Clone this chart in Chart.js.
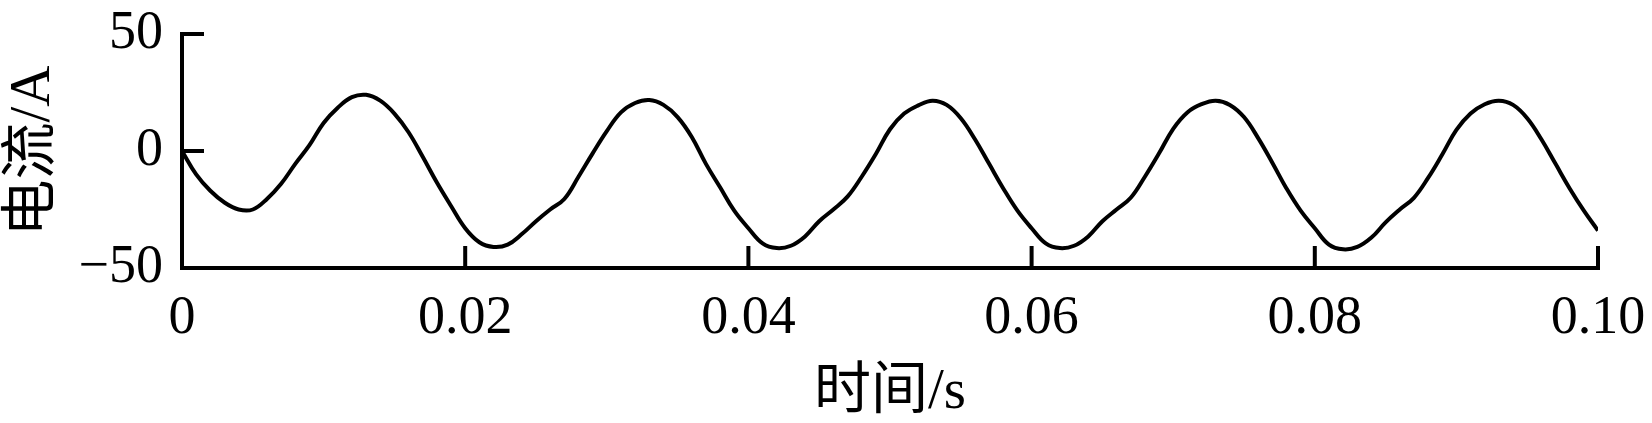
<!DOCTYPE html>
<html>
<head>
<meta charset="utf-8">
<script src="https://cdn.jsdelivr.net/npm/chart.js@4/dist/chart.umd.min.js"></script>
<style>
html,body{margin:0;padding:0;background:#fff;}
#c{display:block;}
</style>
</head>
<body>
<canvas id="c" width="1652" height="423"></canvas>
<script>
// ---- data ----
const timeS = [
  0.000,0.001,0.002,0.003,0.004,0.005,0.006,0.007,0.008,0.009,
  0.010,0.011,0.012,0.013,0.014,0.015,0.016,0.017,0.018,0.019,
  0.020,0.021,0.022,0.023,0.024,0.025,0.026,0.027,0.028,0.029,
  0.030,0.031,0.032,0.033,0.034,0.035,0.036,0.037,0.038,0.039,
  0.040,0.041,0.042,0.043,0.044,0.045,0.046,0.047,0.048,0.049,
  0.050,0.051,0.052,0.053,0.054,0.055,0.056,0.057,0.058,0.059,
  0.060,0.061,0.062,0.063,0.064,0.065,0.066,0.067,0.068,0.069,
  0.070,0.071,0.072,0.073,0.074,0.075,0.076,0.077,0.078,0.079,
  0.080,0.081,0.082,0.083,0.084,0.085,0.086,0.087,0.088,0.089,
  0.090,0.091,0.092,0.093,0.094,0.095,0.096,0.097,0.098,0.099,
  0.100
];
const currentA = [
  0,-10,-17,-22,-25,-25,-20.5,-14,-5.5,2.5,
  12,18.5,23,24,21.5,16,8,-2.5,-13.5,-23.5,
  -33,-39,-41,-40,-35.5,-30,-25,-20.5,-11,-1,
  8.5,16.5,20.5,21.8,19.7,14.5,6,-5.5,-15.5,-25.5,
  -33,-39.5,-41.5,-40.5,-36.5,-30,-25,-19.5,-11,-1.3,
  9.3,16,19.5,21.5,19.7,14,5,-5.5,-16,-25.5,
  -33,-39.5,-41.5,-40.5,-36.5,-30,-25,-20,-11,-1,
  9.5,16.5,20,21.5,19.7,14.5,5.5,-5,-16,-25.5,
  -33,-40,-42,-41,-37,-30.5,-25,-20,-11.5,-1.5,
  9,16,20,21.5,19.7,14,5,-5.5,-16,-25.5,
  -34
];
const xTickValues = [0, 0.02, 0.04, 0.06, 0.08, 0.10];
const xTickLabels = ['0', '0.02', '0.04', '0.06', '0.08', '0.10'];
const yTickValues = [-50, 0, 50];
const yTickLabels = ['\u221250', '0', '50'];
const xTitle = '时间/s';
const yTitle = '电流/A';

// ---- styling ----
const FONT = "'Liberation Serif', 'Noto Sans CJK SC', serif";
const AXIS_W = 4;
const TICK_LEN = 22;

const points = timeS.map((t, i) => ({x: t, y: currentA[i]}));

const axesPlugin = {
  id: 'axesInward',
  afterDatasetsDraw(chart) {
    const ctx = chart.ctx;
    const xs = chart.scales.x, ys = chart.scales.y;
    const x0 = xs.getPixelForValue(xTickValues[0]);
    const x1 = xs.getPixelForValue(xTickValues[xTickValues.length - 1]);
    const yb = ys.getPixelForValue(yTickValues[0]);
    const yt = ys.getPixelForValue(yTickValues[yTickValues.length - 1]);
    ctx.save();
    ctx.strokeStyle = '#000';
    ctx.lineWidth = AXIS_W;
    ctx.lineCap = 'square';
    ctx.beginPath();
    ctx.moveTo(x0, yt); ctx.lineTo(x0, yb); ctx.lineTo(x1, yb);
    ctx.stroke();
    ctx.lineCap = 'butt';
    ctx.beginPath();
    yTickValues.forEach(v => {
      if (v === yTickValues[0]) return;
      const p = ys.getPixelForValue(v);
      ctx.moveTo(x0, p); ctx.lineTo(x0 + TICK_LEN, p);
    });
    xTickValues.forEach(v => {
      if (v === xTickValues[0]) return;
      const p = xs.getPixelForValue(v);
      ctx.moveTo(p, yb); ctx.lineTo(p, yb - TICK_LEN);
    });
    ctx.stroke();
    ctx.restore();
  }
};

function noPad(s) {
  s.paddingTop = 0; s.paddingBottom = 0; s.paddingLeft = 0; s.paddingRight = 0;
}

new Chart(document.getElementById('c'), {
  type: 'line',
  data: {
    datasets: [{
      data: points,
      borderColor: '#000',
      borderWidth: 4,
      pointRadius: 0,
      tension: 0.4,
      fill: false
    }]
  },
  options: {
    responsive: false,
    animation: false,
    devicePixelRatio: 1,
    layout: {padding: {left: 0, right: 54, top: 34, bottom: 0}},
    plugins: {legend: {display: false}, tooltip: {enabled: false}},
    scales: {
      x: {
        type: 'linear',
        min: 0, max: 0.1,
        grid: {display: false, drawTicks: false},
        border: {display: false},
        afterBuildTicks: s => { s.ticks = xTickValues.map(v => ({value: v})); },
        afterFit: s => { s.height = 155; noPad(s); },
        ticks: {
          color: '#000',
          font: {family: FONT, size: 54},
          padding: 18,
          maxRotation: 0,
          autoSkip: false,
          callback: (v, i) => xTickLabels[i]
        },
        title: {
          display: true, text: xTitle, color: '#000',
          font: {family: FONT, size: 57, lineHeight: 1},
          padding: {top: 0, bottom: 1}
        }
      },
      y: {
        type: 'linear',
        min: -50, max: 50,
        grid: {display: false, drawTicks: false},
        border: {display: false},
        afterBuildTicks: s => { s.ticks = yTickValues.map(v => ({value: v})); },
        afterFit: s => { s.width = 182; noPad(s); },
        ticks: {
          color: '#000',
          font: {family: FONT, size: 54},
          padding: 19,
          autoSkip: false,
          callback: (v, i) => yTickLabels[i]
        },
        title: {
          display: true, text: yTitle, color: '#000',
          font: {family: FONT, size: 57, lineHeight: 1},
          padding: {top: 6, bottom: 0}
        }
      }
    }
  },
  plugins: [axesPlugin]
});
</script>
</body>
</html>
